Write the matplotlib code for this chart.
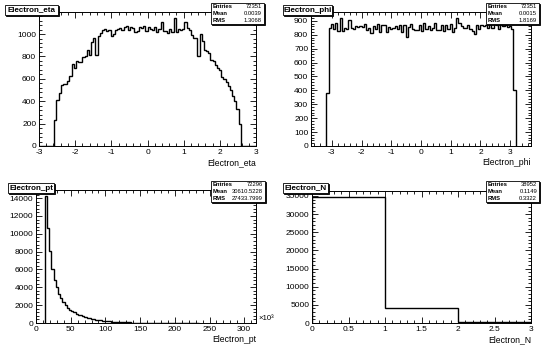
import numpy as np
import matplotlib
matplotlib.use("Agg")
import matplotlib.pyplot as plt
from matplotlib.patches import Rectangle
from matplotlib.ticker import MultipleLocator, FormatStrFormatter

plt.rcParams['font.family'] = ['Liberation Sans', 'DejaVu Sans']
plt.rcParams['axes.unicode_minus'] = False

# === Data ===
# Electron_eta: 100 bins over [-3, 3], non-empty bins from -2.58 to 2.58
eta_lo, eta_hi = -2.58, 2.58
eta_counts = [
    233, 412, 472, 546, 555, 555, 582, 627, 731, 701,
    755, 746, 749, 794, 800, 860, 812, 925, 964, 815,
    979, 1009, 1039, 1045, 1030, 1033, 985, 1003, 1033, 1045,
    1050, 1035, 1060, 1075, 1040, 1065, 1055, 1020, 1030, 1060,
    1050, 1070, 1030,
    1065, 1045, 1040, 1060, 1020, 1045, 1110, 1030, 1030, 1010,
    1045, 1020, 1140, 1020, 1045, 1040, 1045, 1110, 1050, 1040,
    993, 964, 964, 806,
    1000, 935, 860, 845, 830, 770, 755, 725, 700, 680,
    615, 600, 570, 540, 500, 450, 400, 330, 200,
]
eta_stats = ["72351", "0.0039", "1.3068"]

# Electron_phi: 100 bins over [-3.7, 3.7], non-empty bins 7..92
phi_range = (-3.7, 3.7)
phi_first_bin = 7
phi_counts = [
    380,
    850, 880, 845, 885, 825, 918, 830, 850, 842, 905,
    850, 840, 862, 855, 866, 858, 875, 835, 848, 815,
    860, 845, 875, 820, 870, 872, 818, 855, 840, 850,
    862, 842, 870, 820, 868, 785, 855, 878, 840, 838,
    835, 870, 830, 885, 840, 862, 838, 848, 882, 838,
    835, 870, 830, 872, 845, 880, 822, 850, 918, 888,
    860, 852, 848, 870, 840, 830, 805, 872, 845, 868,
    862, 872, 848, 880, 850, 888, 870, 845, 878, 860,
    870, 855, 860, 845,
    400,
]
phi_stats = ["72351", "0.0015", "1.8169"]

# Electron_pt (x10^3): 100 bins over [0, 317], non-empty from bin 4
pt_range = (0, 317)
pt_first_bin = 4
pt_counts = [
    14200, 10700, 8100, 6100, 4800, 4000, 3300, 2800, 2400, 2000,
    1700, 1500, 1350, 1200, 1050, 950, 850, 750, 650, 580,
    520, 460, 410, 360, 320, 290, 260, 230, 205, 180,
    160, 140, 125, 110, 100, 90, 80, 70, 62, 55,
    48, 42, 37, 33, 29, 26, 23, 20, 18, 16,
    14, 12, 10, 9, 8, 7, 6, 5, 4, 4,
    3, 3, 2, 2, 2, 1, 1, 1, 1, 1,
]
pt_stats = ["72296", "30610.5228", "27433.7999"]

# Electron_N
n_edges = [0, 1, 2, 3]
n_counts = [34645, 4138, 169]
n_stats = ["38952", "0.1149", "0.3322"]

W, H = 550, 355
fig = plt.figure(figsize=(W / 100, H / 100), dpi=100)


def fbox(x0, y0, x1, y1):
    return [x0 / W, 1 - y1 / H, (x1 - x0) / W, (y1 - y0) / H]


def frame_box(x0, y0, x1, y1):
    # ROOT-style box with a small drop shadow
    fig.add_artist(Rectangle((x0 / W + 1.2 / W, 1 - y1 / H - 1.2 / H), (x1 - x0) / W, (y1 - y0) / H,
                             transform=fig.transFigure, facecolor="black", edgecolor="black", lw=0.6))
    fig.add_artist(Rectangle((x0 / W, 1 - y1 / H), (x1 - x0) / W, (y1 - y0) / H,
                             transform=fig.transFigure, facecolor="white", edgecolor="black", lw=0.6))


def title_box(x0, y0, x1, y1, text):
    frame_box(x0, y0, x1, y1)
    fig.text((x0 + x1) / 2 / W, 1 - (y0 + y1) / 2 / H, text, ha="center", va="center",
             fontsize=5.8, fontweight="bold")


def stats_box(x0, y0, x1, y1, vals):
    frame_box(x0, y0, x1, y1)
    names = ["Entries", "Mean", "RMS"]
    rh = (y1 - y0) / 3
    for i, (nm, v) in enumerate(zip(names, vals)):
        yc = 1 - (y0 + rh * (i + 0.5)) / H
        fig.text((x0 + 2) / W, yc, nm, ha="left", va="center", fontsize=4.2, fontweight="bold")
        fig.text((x1 - 2) / W, yc, v, ha="right", va="center", fontsize=4.2)


def style(ax, xmaj, xmin, ymaj, ymin, xlabel):
    ax.xaxis.set_major_locator(MultipleLocator(xmaj))
    ax.xaxis.set_minor_locator(MultipleLocator(xmin))
    ax.yaxis.set_major_locator(MultipleLocator(ymaj))
    ax.yaxis.set_minor_locator(MultipleLocator(ymin))
    ax.xaxis.set_major_formatter(FormatStrFormatter("%g"))
    ax.yaxis.set_major_formatter(FormatStrFormatter("%g"))
    ax.tick_params(which="both", direction="in", top=True, right=True, width=0.6, labelsize=6, pad=2)
    ax.tick_params(which="major", length=4)
    ax.tick_params(which="minor", length=2)
    for s in ax.spines.values():
        s.set_linewidth(0.7)
    ax.set_xlabel(xlabel, loc="right", fontsize=6.2, labelpad=1.5)


# --- Electron_eta ---
ax1 = fig.add_axes(fbox(39, 12, 256, 146))
e = np.linspace(eta_lo, eta_hi, len(eta_counts) + 1)
ax1.stairs(eta_counts, e, color="black", lw=1.0)
ax1.plot([-3, eta_lo], [0, 0], color="black", lw=1.0)
ax1.plot([eta_hi, 3], [0, 0], color="black", lw=1.0)
ax1.set_xlim(-3, 3)
ax1.set_ylim(0, max(eta_counts) * 1.05)
style(ax1, 1, 0.2, 200, 40, "Electron_eta")

# --- Electron_phi ---
ax2 = fig.add_axes(fbox(311, 12, 531, 146))
pw = (phi_range[1] - phi_range[0]) / 100
pe = phi_range[0] + pw * (phi_first_bin + np.arange(len(phi_counts) + 1))
ax2.stairs(phi_counts, pe, color="black", lw=1.0)
ax2.set_xlim(*phi_range)
ax2.set_ylim(0, max(phi_counts) * 1.05)
style(ax2, 1, 0.2, 100, 20, "Electron_phi")

# --- Electron_pt ---
ax3 = fig.add_axes(fbox(36, 190, 256, 323))
tw = (pt_range[1] - pt_range[0]) / 100
te = pt_range[0] + tw * (pt_first_bin + np.arange(len(pt_counts) + 1))
ax3.stairs(pt_counts, te, color="black", lw=1.0)
ax3.set_xlim(*pt_range)
ax3.set_ylim(0, max(pt_counts) * 1.05)
style(ax3, 50, 10, 2000, 400, "Electron_pt")
fig.text(258 / W, 1 - 318 / H, "×10³", fontsize=5.6, ha="left", va="center")

# --- Electron_N ---
ax4 = fig.add_axes(fbox(312, 191, 531, 323))
ax4.stairs(n_counts, n_edges, color="black", lw=1.0)
ax4.set_xlim(0, 3)
ax4.set_ylim(0, max(n_counts) * 1.05)
style(ax4, 0.5, 0.1, 5000, 1000, "Electron_N")

# title and stats boxes
title_box(5, 5, 58, 15, "Electron_eta")
title_box(283, 5, 332, 15, "Electron_phi")
title_box(8, 183, 54, 193, "Electron_pt")
title_box(283, 183, 328, 193, "Electron_N")
stats_box(211, 3, 264, 24, eta_stats)
stats_box(486, 3, 539, 24, phi_stats)
stats_box(211, 181, 265, 202, pt_stats)
stats_box(486, 181, 539, 202, n_stats)

fig.savefig("out.png", dpi=100, facecolor="white")
